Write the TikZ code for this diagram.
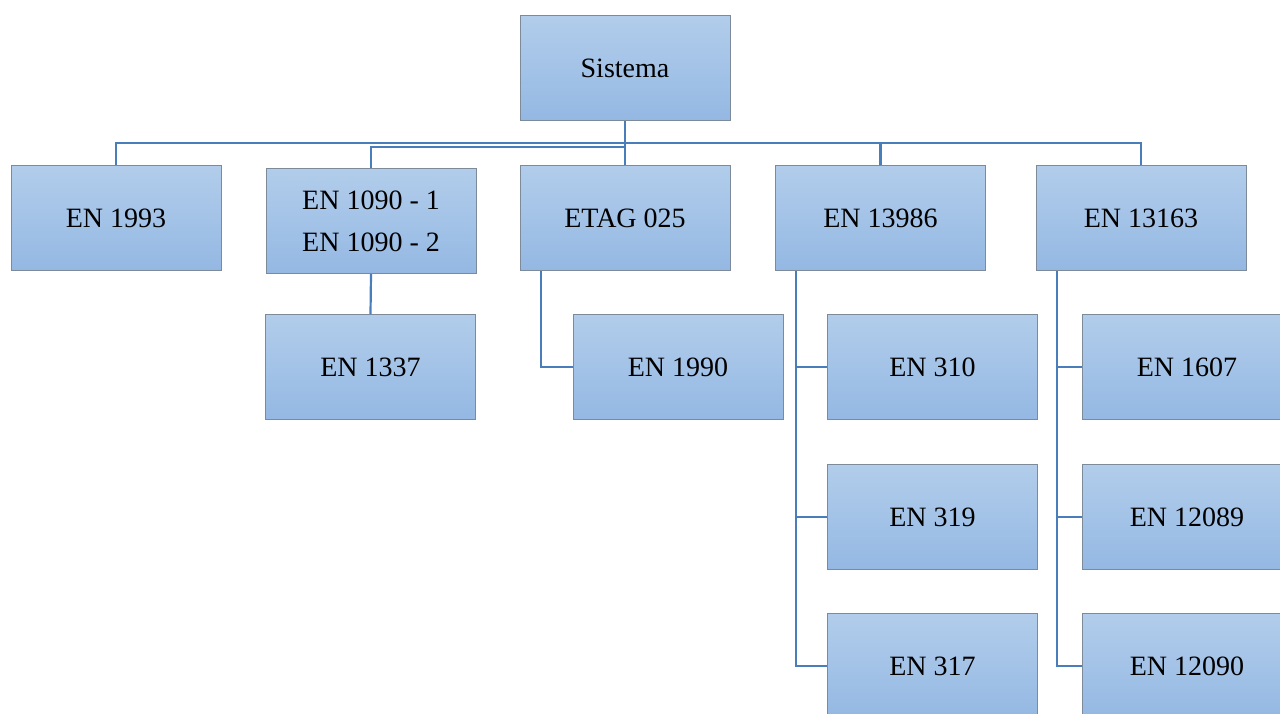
\documentclass[tikz,border=0pt]{standalone}
\usepackage{fontspec}
\setmainfont{Liberation Serif}
\begin{document}
\begin{tikzpicture}[x=1pt,y=-1pt,
  box/.style={draw=boxedge, line width=1pt, top color=boxtop, bottom color=boxbot,
    minimum width=210pt, minimum height=105pt, inner sep=0pt, align=center,
    font=\fontsize{28}{42}\selectfont},
  link/.style={draw=linkc, line width=2.2pt}]
\definecolor{boxtop}{HTML}{B2CDEB}
\definecolor{boxbot}{HTML}{94B8E3}
\definecolor{boxedge}{HTML}{7D8A99}
\definecolor{linkc}{HTML}{4A7EBB}
\clip (0,0) rectangle (1280,713);
\useasboundingbox (0,0) rectangle (1280,713);
\fill[white] (0,0) rectangle (1280,713);
% nodes
\node[box] (sis) at (625,68) {Sistema};
\node[box] (en1993) at (116,218) {EN 1993};
\node[box] (en1090) at (371,221) {EN 1090 - 1\\EN 1090 - 2};
\node[box] (etag) at (625,218) {ETAG 025};
\node[box] (en13986) at (880.5,218) {EN 13986};
\node[box] (en13163) at (1141,218) {EN 13163};
\node[box] (en1337) at (370.5,367) {EN 1337};
\node[box] (en1990) at (678,367) {EN 1990};
\node[box] (en310) at (932.5,367) {EN 310};
\node[box] (en319) at (932.5,517) {EN 319};
\node[box] (en317) at (932.5,666) {EN 317};
\node[box] (en1607) at (1187,367) {EN 1607};
\node[box] (en12089) at (1187,517) {EN 12089};
\node[box] (en12090) at (1187,666) {EN 12090};
% connectors
\coordinate (hub) at (625,143);
\draw[link] (sis.south) -- (etag.north);
\draw[link] (sis.south) |- (en1993.north |- hub) -- (en1993.north);
\draw[link] (hub) -| (en13986.north);
\draw[link] (hub) -| (en13163.north);
\draw[link] (sis.south |- 0,147) -| (en1090.north);
\draw[link] (en1090.south) -- (en1337.north);
\draw[link] ([xshift=-84pt]etag.south) |- (en1990.west);
\draw[link] ([xshift=-84.5pt]en13986.south) |- (en310.west);
\draw[link] ([xshift=-84.5pt]en13986.south) |- (en319.west);
\draw[link] ([xshift=-84.5pt]en13986.south) |- (en317.west);
\draw[link] ([xshift=-84pt]en13163.south) |- (en1607.west);
\draw[link] ([xshift=-84pt]en13163.south) |- (en12089.west);
\draw[link] ([xshift=-84pt]en13163.south) |- (en12090.west);
\end{tikzpicture}
\end{document}
